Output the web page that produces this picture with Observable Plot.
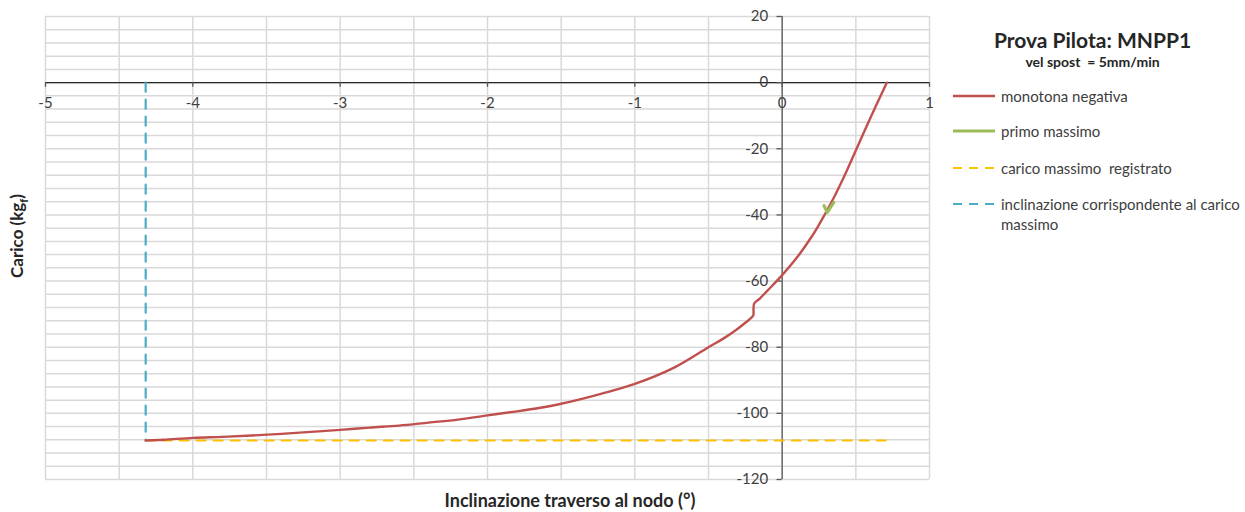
<!DOCTYPE html>
<html>
<head>
<meta charset="utf-8">
<script src="https://cdn.jsdelivr.net/npm/d3@7"></script>
<script src="https://cdn.jsdelivr.net/npm/@observablehq/plot@0.6"></script>
<style>
  body { margin: 0; background: #fff; font-family: Lato, "Liberation Sans", sans-serif; }
  #wrap { position: relative; width: 1245px; height: 512px; }
  #legend { position: absolute; left: 940px; top: 0; width: 305px; color: #262626; }
  .ltitle { position: absolute; left: 0; width: 305px; text-align: center; font-weight: bold; white-space: nowrap; }
  .lrow { position: absolute; left: 12px; font-size: 15px; color: #404040; line-height: 20px; }
  .lrow svg { position: absolute; left: 0; top: 0; }
  .lrow span { position: absolute; left: 49px; top: 0; white-space: nowrap; }
  #ytitle { position: absolute; left: 18px; top: 236px; transform: translate(-50%,-50%) rotate(-90deg); font-weight: bold; font-size: 17px; color: #262626; white-space: nowrap; }
  #xtitle { position: absolute; left: 570px; top: 500px; transform: translate(-50%,-50%); font-weight: bold; font-size: 18px; color: #262626; white-space: nowrap; }
</style>
</head>
<body>
<div id="wrap"></div>
<script>
// monotona negativa
const redX = [-4.32,-4.2,-4.0,-3.8,-3.6,-3.4,-3.2,-3.0,-2.8,-2.6,-2.4,-2.2,-2.0,-1.8,-1.64,-1.5,-1.23,-1.0,-0.73,-0.5,-0.4,-0.32,-0.25,-0.2,-0.195,-0.19,-0.15,-0.1,0.0,0.1,0.2,0.252,0.28,0.354,0.43,0.465,0.58,0.71];
const redY = [-108.2,-108.0,-107.4,-107.1,-106.7,-106.2,-105.6,-105.0,-104.3,-103.7,-102.8,-101.9,-100.6,-99.4,-98.3,-97.1,-94.1,-91.1,-86.1,-80.0,-77.4,-75.0,-72.6,-70.6,-70.2,-66.8,-65.2,-62.9,-58.2,-52.9,-46.6,-42.8,-40.6,-34.5,-27.5,-24.0,-12.5,0];
// primo massimo
const greenX = [0.284, 0.306, 0.35];
const greenY = [-37.2, -39.2, -36.2];
// carico massimo registrato
const maxLoad = -108.2;
const maxLoadX = [-4.32, 0.72];
// inclinazione corrispondente al carico massimo
const maxIncl = -4.32;
const maxInclY = [0, -108.2];

const xTicks = [-5,-4,-3,-2,-1,0,1];
const yTicks = [20,0,-20,-40,-60,-80,-100,-120];
const xGrid = d3.range(-5, 1.001, 0.5);
const yGrid = d3.range(-120, 20.001, 4);

const red = redX.map((x,i)=>({x, y: redY[i]}));
const green = greenX.map((x,i)=>({x, y: greenY[i]}));
const yellow = maxLoadX.map(x=>({x, y: maxLoad}));
const blue = maxInclY.map(y=>({x: maxIncl, y}));

const chart = Plot.plot({
  width: 1245, height: 512,
  marginLeft: 45, marginRight: 316, marginTop: 16, marginBottom: 33,
  x: {domain: [-5, 1], axis: null},
  y: {domain: [-120, 20], axis: null},
  style: {fontFamily: "Lato, 'Liberation Sans', sans-serif", fontSize: "15px", color: "#404040", background: "#fff"},
  marks: [
    Plot.ruleX(xGrid, {x: d=>d, y1: -120, y2: 20, stroke: "#d9d9d9", strokeWidth: 1.5}),
    Plot.ruleY(yGrid, {y: d=>d, x1: -5, x2: 1, stroke: "#d9d9d9", strokeWidth: 1.5}),
    Plot.ruleY([0], {x1: -5, x2: 1, stroke: "#262626", strokeWidth: 1.3}),
    Plot.ruleX(xTicks, {x: d=>d, y1: 0, y2: -1.4, stroke: "#595959", strokeWidth: 1.3}),
    Plot.ruleX([0], {y1: -120, y2: 20, stroke: "#595959", strokeWidth: 1.3}),
    Plot.ruleY(yTicks, {y: d=>d, x1: -0.035, x2: 0, stroke: "#595959", strokeWidth: 1.3}),
    Plot.text(xTicks, {x: d=>d, y: 0, dy: 21, text: d=>String(d), fill: "#404040"}),
    Plot.text(yTicks, {x: 0, y: d=>d, dx: -14, dy: 0, textAnchor: "end", text: d=>String(d), fill: "#404040"}),
    Plot.line(yellow, {x: "x", y: "y", stroke: "#ffc000", strokeWidth: 2.2, strokeDasharray: "9,8"}),
    Plot.line(blue, {x: "x", y: "y", stroke: "#4bacc6", strokeWidth: 2.2, strokeDasharray: "9,8"}),
    Plot.line(red, {x: "x", y: "y", stroke: "#c0504d", strokeWidth: 2.4, curve: "catmull-rom"}),
    Plot.line(green, {x: "x", y: "y", stroke: "#9bbb59", strokeWidth: 3.2})
  ]
});

const wrap = document.getElementById("wrap");
wrap.appendChild(chart);

const lineSample = (color, dash, w) =>
  `<svg width="44" height="20"><line x1="1" x2="43" y1="10" y2="10" stroke="${color}" stroke-width="${w}" ${dash ? `stroke-dasharray="${dash}"` : ""}/></svg>`;

const legend = document.createElement("div");
legend.id = "legend";
legend.innerHTML = `
  <div class="ltitle" style="top:27px;font-size:21px;">Prova Pilota: MNPP1</div>
  <div class="ltitle" style="top:53px;font-size:14px;">vel spost&nbsp; = 5mm/min</div>
  <div class="lrow" style="top:86px;">${lineSample("#c0504d", null, 2.4)}<span>monotona negativa</span></div>
  <div class="lrow" style="top:121px;">${lineSample("#9bbb59", null, 3.2)}<span>primo massimo</span></div>
  <div class="lrow" style="top:158px;">${lineSample("#ffc000", "9,7", 2.2)}<span>carico massimo&nbsp; registrato</span></div>
  <div class="lrow" style="top:194px;">${lineSample("#4bacc6", "9,7", 2.2)}<span>inclinazione corrispondente al carico<br>massimo</span></div>
`;
wrap.appendChild(legend);

const yt = document.createElement("div");
yt.id = "ytitle";
yt.innerHTML = "Carico (kg<sub style='font-size:11px'>f</sub>)";
wrap.appendChild(yt);

const xt = document.createElement("div");
xt.id = "xtitle";
xt.textContent = "Inclinazione traverso al nodo (°)";
wrap.appendChild(xt);
</script>
</body>
</html>
